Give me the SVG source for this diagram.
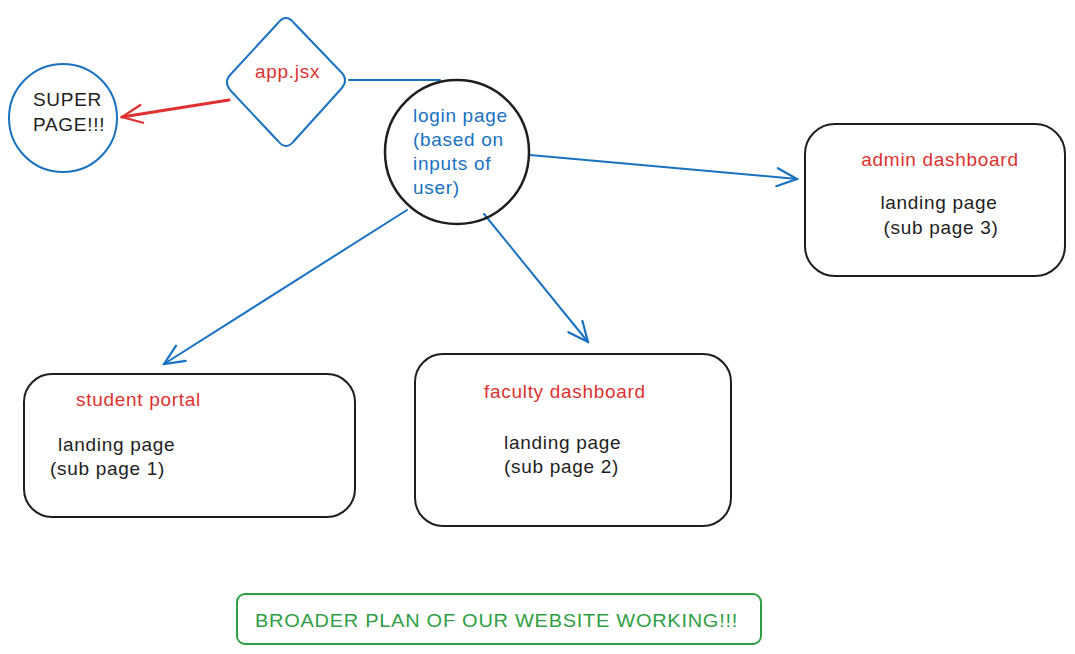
<svg xmlns="http://www.w3.org/2000/svg" width="1075" height="654" viewBox="0 0 1075 654">
<defs>
<style>
.t{font-family:"Liberation Sans","DejaVu Sans",sans-serif;font-size:19px;letter-spacing:0.7px}
.red{fill:#e03131}.blue{fill:#1971c2}.blk{fill:#1e1e1e}.grn{fill:#2f9e44}
.box{fill:none;stroke:#1e1e1e;stroke-width:2}
.edge{fill:none;stroke:#1971c2;stroke-width:2;stroke-linecap:round}
</style>
<marker id="ab" viewBox="0 0 24 24" refX="22" refY="12" markerWidth="24" markerHeight="24" markerUnits="userSpaceOnUse" orient="auto">
<path d="M2,3 L22,12 L2,21" fill="none" stroke="#1971c2" stroke-width="2.2" stroke-linecap="round"/>
</marker>
<marker id="ar" viewBox="0 0 24 24" refX="22" refY="12" markerWidth="24" markerHeight="24" markerUnits="userSpaceOnUse" orient="auto">
<path d="M2,3 L22,12 L2,21" fill="none" stroke="#e03131" stroke-width="2.2" stroke-linecap="round"/>
</marker>
</defs>
<rect width="1075" height="654" fill="#ffffff"/>
<g id="connectors">
<path class="edge" d="M349,80 L440,80"/>
<path d="M229,100 L122,117" fill="none" stroke="#e03131" stroke-width="3" stroke-linecap="round" marker-end="url(#ar)"/>
<path class="edge" d="M530,155 L797,179" marker-end="url(#ab)"/>
<path class="edge" d="M407,210 L164,364" marker-end="url(#ab)"/>
<path class="edge" d="M484,214 L588,342" stroke-width="2.5" marker-end="url(#ab)"/>
</g>
<g id="super">
<circle cx="63" cy="118" r="54" fill="none" stroke="#1971c2" stroke-width="2"/>
<text class="t blk" x="33" y="106">SUPER</text>
<text class="t blk" x="33" y="131">PAGE!!!</text>
</g>
<g id="app">
<path d="M278,23 Q286,13 294,23 L341,72 Q349,80 341,89 L294,141 Q286,151 278,141 L231,91 Q223,82 231,74 Z" fill="none" stroke="#1971c2" stroke-width="2"/>
<text class="t red" x="255" y="78">app.jsx</text>
</g>
<g id="login">
<circle cx="457" cy="152" r="72" fill="none" stroke="#1e1e1e" stroke-width="2.5"/>
<text class="t blue" x="413" y="122">login page</text>
<text class="t blue" x="413" y="146">(based on</text>
<text class="t blue" x="413" y="170">inputs of</text>
<text class="t blue" x="413" y="194">user)</text>
</g>
<g id="admin">
<rect class="box" x="805" y="124" width="260" height="152" rx="30"/>
<text class="t red" x="940" y="166" text-anchor="middle">admin dashboard</text>
<text class="t blk" x="939" y="209" text-anchor="middle">landing page</text>
<text class="t blk" x="941" y="234" text-anchor="middle">(sub page 3)</text>
</g>
<g id="student">
<rect class="box" x="24" y="374" width="331" height="143" rx="28"/>
<text class="t red" x="76" y="406">student portal</text>
<text class="t blk" x="58" y="451">landing page</text>
<text class="t blk" x="50" y="475">(sub page 1)</text>
</g>
<g id="faculty">
<rect class="box" x="415" y="354" width="316" height="172" rx="28"/>
<text class="t red" x="484" y="398">faculty dashboard</text>
<text class="t blk" x="504" y="449">landing page</text>
<text class="t blk" x="504" y="473">(sub page 2)</text>
</g>
<g id="title">
<rect x="237" y="594" width="524" height="50" rx="8" fill="none" stroke="#2f9e44" stroke-width="2"/>
<text class="t grn" x="255" y="627" textLength="483" lengthAdjust="spacingAndGlyphs" font-size="20">BROADER PLAN OF OUR WEBSITE WORKING!!!</text>
</g>
</svg>
